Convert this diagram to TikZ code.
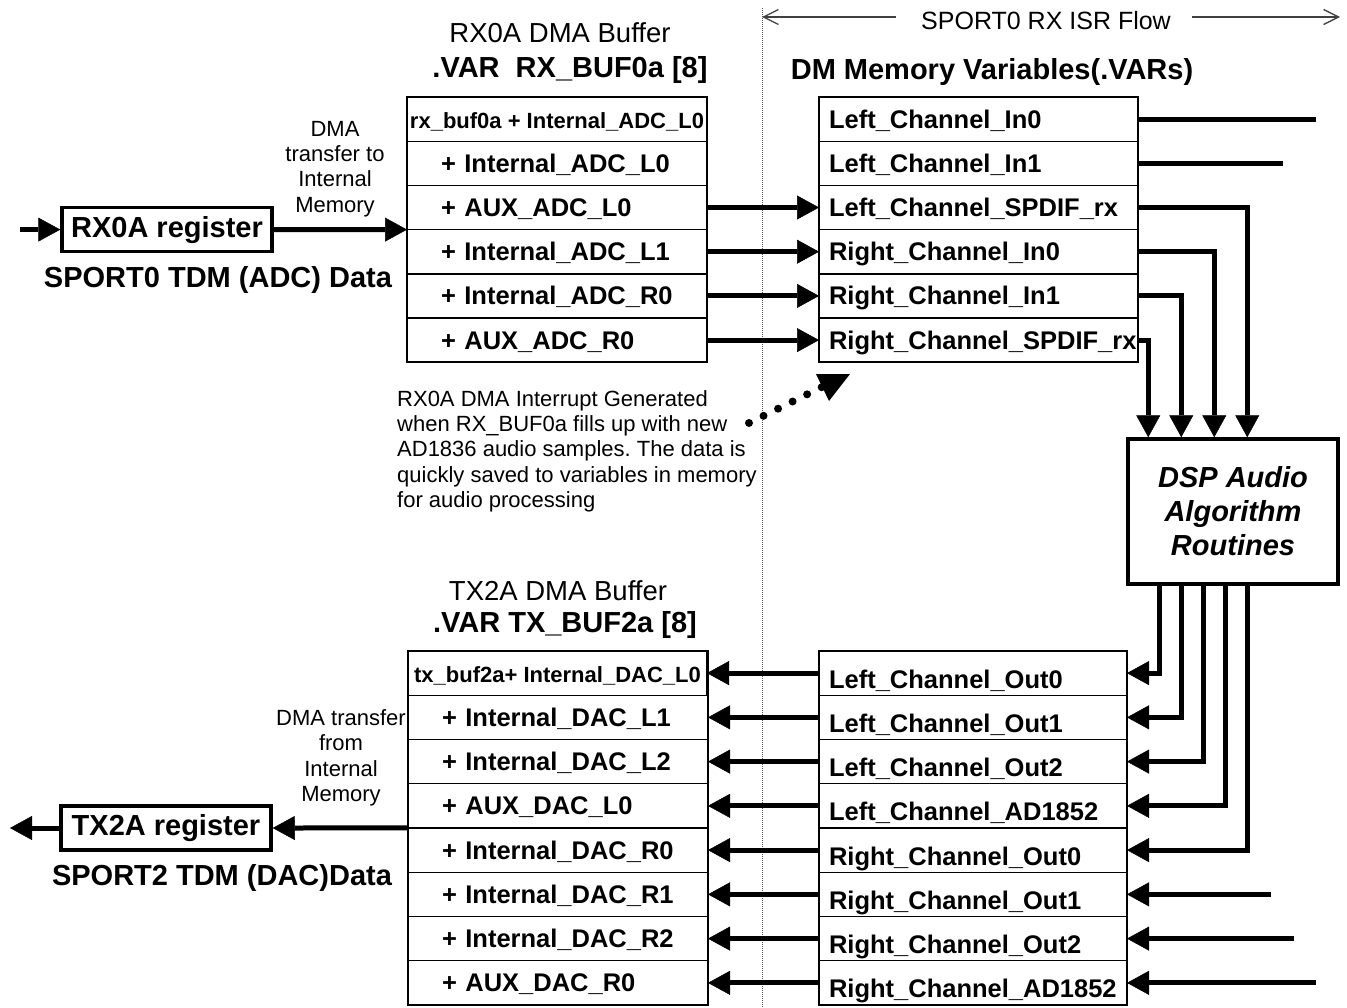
\documentclass[tikz,border=0pt]{standalone}
\usepackage{fontspec}
\setmainfont{Liberation Sans}
\usetikzlibrary{arrows.meta}
\definecolor{ink}{HTML}{000000}
\definecolor{rule}{HTML}{555555}
\frenchspacing

\newcommand\cellfont{\fontsize{25.5}{28}\selectfont\bfseries}
\newcommand\headfont{\fontsize{22}{25}\selectfont\bfseries}
\newcommand\titlefont{\fontsize{29}{32}\selectfont\bfseries}
\newcommand\dspfont{\fontsize{29}{34}\selectfont\bfseries\itshape}
\newcommand\bufname{\fontsize{27.5}{30}\selectfont}
\newcommand\flowfont{\fontsize{25}{28}\selectfont}
\newcommand\notefont{\fontsize{22}{25.4}\selectfont}

\begin{document}
\begin{tikzpicture}[x=1pt,y=-1pt,
  cell/.style={draw=ink,line width=1.4pt,anchor=north west,inner sep=0pt,
    outer sep=0pt,minimum height=44.2pt,text height=19pt,text depth=1pt,
    font=\cellfont,align=left},
  headcell/.style={cell,minimum width=300pt,align=center,font=\headfont},
  bufcell/.style={cell,minimum width=300pt,inner xsep=34pt,text width=232pt},
  varcell/.style={cell,minimum width=319pt,inner xsep=10pt,text width=299pt},
  outcell/.style={cell,minimum width=308pt,inner xsep=10pt,text width=288pt,
    text height=31pt},
  regbox/.style={draw=ink,line width=3.5pt,minimum width=210pt,
    minimum height=44pt,inner sep=0pt,font=\titlefont},
  dspbox/.style={draw=ink,line width=3.5pt,minimum width=210pt,
    minimum height=145pt,align=center,font=\dspfont},
  bus/.style={draw=ink,line width=5pt},
  bigarrow/.style={bus,-{Triangle[length=22pt 0 0,width=24pt 0 0,line width=0.5pt 0 0]}},
  flowarrow/.style={draw=black!75,line width=1.3pt,
    {Straight Barb[length=15pt 0 0,width=15pt 0 0]}-}]
  \useasboundingbox (0,0) rectangle (1347,1007);

  % ISR boundary and flow header
  \coordinate (isrT) at (762,8);
  \coordinate (isrB) at (762,1007);
  \draw[rule,line width=1pt,dash pattern=on 1pt off 1pt] (isrT) -- (isrB);
  \coordinate (flowL) at (762,17);
  \coordinate (flowR) at (1340,17);
  \node[font=\flowfont] (flow) at (1046,21) {SPORT0 RX ISR Flow};
  \draw[flowarrow] (flowL) -- ([xshift=-22]flowL -| flow.west);
  \draw[flowarrow] (flowR) -- ([xshift=18]flowR -| flow.east);

  % RX0A DMA buffer
  \node[font=\bufname] (rxname) at (560,33) {RX0A DMA Buffer};
  \node[font=\titlefont] (rxvar) at (570,70) {.VAR\ \ RX\_BUF0a [8]};
  \node[headcell] (rx1) at (407,97) {rx\_buf0a + Internal\_ADC\_L0};
  \foreach \lbl [count=\i from 2] in {Internal\_ADC\_L0,AUX\_ADC\_L0,
      Internal\_ADC\_L1,Internal\_ADC\_R0,AUX\_ADC\_R0}
    \node[bufcell] (rx\i) at (407,{97+44.2*(\i-1)}) {+ \lbl};
  \draw[line width=2.5pt] (rx1.north west) rectangle (rx6.south east);

  % DM memory variables, input side
  \node[font=\titlefont] (dmvar) at (992,72) {DM Memory Variables(.VARs)};
  \foreach \lbl [count=\i] in {Left\_Channel\_In0,Left\_Channel\_In1,
      Left\_Channel\_SPDIF\_rx,Right\_Channel\_In0,Right\_Channel\_In1,
      Right\_Channel\_SPDIF\_rx}
    \node[varcell] (dm\i) at (819,{97+44.2*(\i-1)}) {\lbl};
  \draw[line width=2pt] (dm1.north west) rectangle (dm6.south east);

  % RX register and SPORT0 input
  \node[regbox] (rxreg) at (167,229.6) {RX0A register};
  \node[font=\titlefont] (rxport) at (218,280) {SPORT0 TDM (ADC) Data};
  \node[font=\notefont,align=center] (rxdma) at (335,169)
    {DMA\\transfer to\\Internal\\Memory};
  \coordinate (rxin) at (20,229.6);
  \draw[bigarrow] (rxin) -- (rxreg.west);
  \draw[bigarrow] (rxreg.east) -- (rx3.south west);
  \foreach \i in {3,...,6}
    \draw[bigarrow] (rx\i.east) -- (dm\i.west);

  % interrupt note
  \node[font=\notefont,align=left,anchor=north west,inner sep=0pt] (irq)
    at (397,390) {RX0A DMA Interrupt Generated\\when RX\_BUF0a fills up with new\\
    AD1836 audio samples. The data is\\quickly saved to variables in memory\\
    for audio processing};
  \coordinate (irqA) at (749,423);
  \coordinate (irqB) at (822,387);
  \draw[ink,line width=8pt,line cap=round,dash pattern=on 0pt off 16.2pt]
    (irqA) -- (irqB);
  \fill[ink] (816,374) -- (850,374) -- (829,401) -- cycle;

  % DSP routines
  \node[dspbox] (dsp) at (1233,511.5) {DSP Audio\\Algorithm\\Routines};
  \coordinate (inA) at ([xshift=178]dm1.east);
  \coordinate (inB) at ([xshift=145]dm2.east);
  \draw[bus] (dm1.east) -- (inA);
  \draw[bus] (dm2.east) -- (inB);
  \foreach \i/\dx in {3/121,4/88,5/55,6/22}
    \draw[bigarrow] (dm\i.east) -| ([xshift=\dx]dsp.north west);

  % DM memory variables, output side
  \foreach \lbl [count=\i] in {Left\_Channel\_Out0,Left\_Channel\_Out1,
      Left\_Channel\_Out2,Left\_Channel\_AD1852,Right\_Channel\_Out0,
      Right\_Channel\_Out1,Right\_Channel\_Out2,Right\_Channel\_AD1852}
    \node[outcell] (out\i) at (819,{651+44.25*(\i-1)}) {\lbl};
  \draw[line width=2.5pt] (out1.north west) rectangle (out8.south east);
  \foreach \i/\dx in {1/33,2/55,3/77,4/99,5/121}
    \draw[bigarrow] ([xshift=\dx]dsp.south west) |- (out\i.east);
  \foreach \i/\dx in {6/144,7/167,8/189} {
    \coordinate (feed\i) at ([xshift=\dx]out\i.east);
    \draw[bigarrow] (feed\i) -- (out\i.east);
  }

  % TX2A DMA buffer
  \node[font=\bufname] (txname) at (558,591) {TX2A DMA Buffer};
  \node[font=\titlefont] (txvar) at (565,625) {.VAR TX\_BUF2a [8]};
  \node[headcell,minimum width=299pt] (tx1) at (408,651)
    {tx\_buf2a+ Internal\_DAC\_L0};
  \foreach \lbl [count=\i from 2] in {Internal\_DAC\_L1,Internal\_DAC\_L2,
      AUX\_DAC\_L0,Internal\_DAC\_R0,Internal\_DAC\_R1,Internal\_DAC\_R2,
      AUX\_DAC\_R0}
    \node[bufcell,minimum width=299pt] (tx\i) at (408,{651+44.25*(\i-1)}) {+ \lbl};
  \draw[line width=2.5pt] (tx1.north west) rectangle (tx8.south east);
  \foreach \i in {1,...,8}
    \draw[bigarrow] (out\i.west) -- (tx\i.east);

  % TX register and SPORT2 output
  \node[regbox] (txreg) at (166,828) {TX2A register};
  \node[font=\titlefont] (txport) at (222,878) {SPORT2 TDM (DAC)Data};
  \node[font=\notefont,align=center] (txdma) at (341,758)
    {DMA transfer\\from\\Internal\\Memory};
  \coordinate (txout) at (10,828);
  \draw[bigarrow] (tx4.south west) -- (txreg.east);
  \draw[bigarrow] (txreg.west) -- (txout);
\end{tikzpicture}
\end{document}
